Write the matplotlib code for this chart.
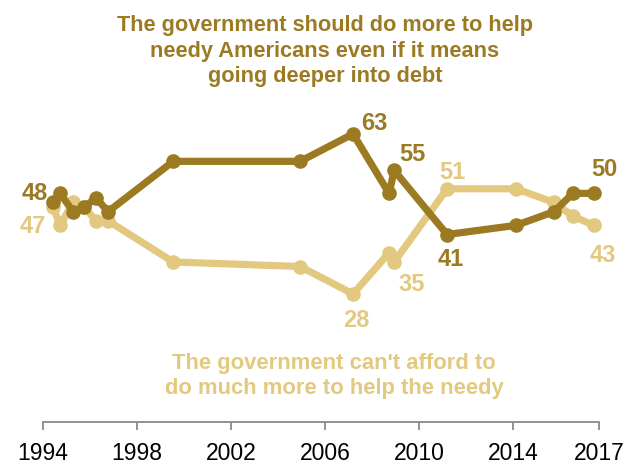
import matplotlib
matplotlib.use("Agg")
import matplotlib.pyplot as plt

# survey dates (fractional years) and shares (%)
years = [1994.44, 1994.74, 1995.29, 1995.76, 1996.27, 1996.78, 1999.55, 2004.95,
         2007.2, 2008.73, 2008.95, 2011.2, 2014.13, 2015.75, 2016.55, 2017.45]
do_more = [48, 50, 46, 47, 49, 46, 57, 57, 63, 50, 55, 41, 43, 46, 50, 50]
cant_afford = [47, 43, 48, 47, 44, 44, 35, 34, 28, 37, 35, 51, 51, 48, 45, 43]

tick_years = [1994, 1998, 2002, 2006, 2010, 2014, 2017.66]
tick_labels = ["1994", "1998", "2002", "2006", "2010", "2014", "2017"]

# (index in series, text offset in pixels)
do_more_labels = [(0, (-18, 10)), (8, (21, 11)), (10, (18, 17)), (11, (4, -24)), (15, (10, 25))]
cant_afford_labels = [(0, (-20, -18)), (8, (3, -26)), (10, (17, -22)), (11, (5, 17)), (15, (9, -29))]

DARK = "#9b7a22"
LIGHT = "#e3c97f"
FONT = ["Liberation Sans", "DejaVu Sans"]

fig = plt.figure(figsize=(6.36, 4.64), dpi=100)
ax = fig.add_axes([42.7 / 636, 41 / 464, (599 - 42.7) / 636, 423 / 464])

ax.plot(years, cant_afford, color=LIGHT, lw=5.2, marker="o", ms=9.5, clip_on=False, zorder=2)
ax.plot(years, do_more, color=DARK, lw=5.2, marker="o", ms=9.5, clip_on=False, zorder=3)

for i, off in do_more_labels:
    ax.annotate(str(do_more[i]), (years[i], do_more[i]), xytext=off, textcoords="offset pixels",
                ha="center", va="center", color=DARK, fontsize=17, fontweight="bold", family=FONT)
for i, off in cant_afford_labels:
    ax.annotate(str(cant_afford[i]), (years[i], cant_afford[i]), xytext=off, textcoords="offset pixels",
                ha="center", va="center", color=LIGHT, fontsize=17, fontweight="bold", family=FONT)

fig.text(325 / 636, 1 - 51 / 464,
         "The government should do more to help\nneedy Americans even if it means\ngoing deeper into debt",
         ha="center", va="center", color=DARK, fontsize=15.7, fontweight="bold",
         family=FONT, linespacing=1.3)
fig.text(334 / 636, 1 - 376 / 464,
         "The government can't afford to\ndo much more to help the needy",
         ha="center", va="center", color=LIGHT, fontsize=15.8, fontweight="bold",
         family=FONT, linespacing=1.22)

ax.set_xlim(1994, 2017.66)
ax.set_ylim(0, 92.5)
for s in ["top", "left", "right"]:
    ax.spines[s].set_visible(False)
ax.spines["bottom"].set_color("#8a8a8a")
ax.spines["bottom"].set_linewidth(1.3)
ax.set_yticks([])
ax.set_xticks(tick_years)
ax.set_xticklabels(tick_labels, family=FONT, fontsize=16.5)
ax.tick_params(axis="x", direction="out", length=6, width=1.3, color="#8a8a8a", pad=8)

fig.savefig("out.png", dpi=100)
